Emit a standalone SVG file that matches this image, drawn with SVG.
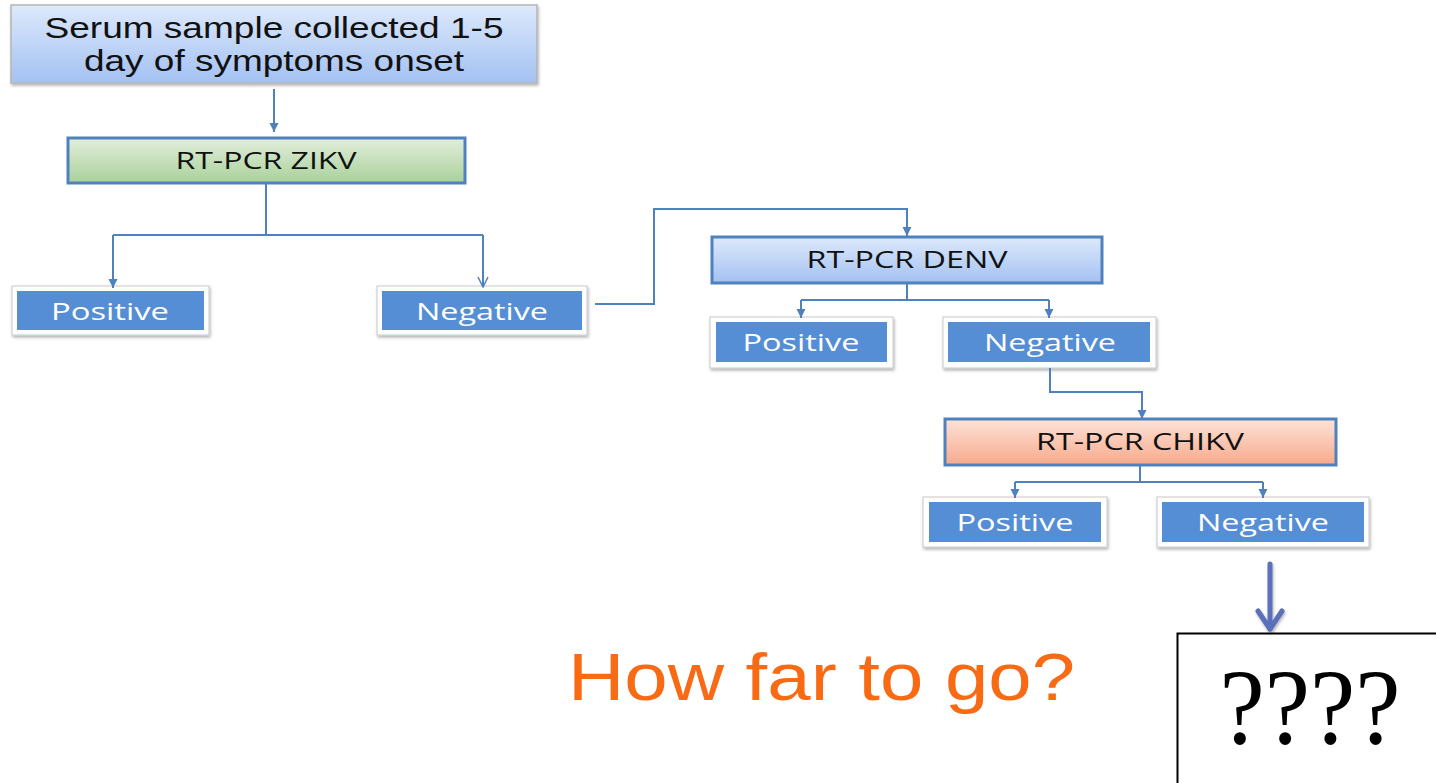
<svg xmlns="http://www.w3.org/2000/svg" width="1436" height="783" viewBox="0 0 1436 783">
  <defs>
    <linearGradient id="gBlue" x1="0" y1="0" x2="0" y2="1">
      <stop offset="0" stop-color="#dde9fb"/>
      <stop offset="1" stop-color="#a3c1f2"/>
    </linearGradient>
    <linearGradient id="gGreen" x1="0" y1="0" x2="0" y2="1">
      <stop offset="0" stop-color="#e2eedb"/>
      <stop offset="1" stop-color="#a9d19a"/>
    </linearGradient>
    <linearGradient id="gSalmon" x1="0" y1="0" x2="0" y2="1">
      <stop offset="0" stop-color="#fde3d8"/>
      <stop offset="1" stop-color="#f7a98c"/>
    </linearGradient>
    <filter id="shadow" x="-10%" y="-20%" width="120%" height="150%">
      <feDropShadow dx="1" dy="2" stdDeviation="1.5" flood-color="#000" flood-opacity="0.3"/>
    </filter>
    <filter id="arrowShadow" filterUnits="userSpaceOnUse" x="1240" y="550" width="60" height="100">
      <feDropShadow dx="1" dy="2" stdDeviation="1.5" flood-color="#000" flood-opacity="0.3"/>
    </filter>
    <marker id="arr" viewBox="0 0 10 10" refX="10" refY="5" markerWidth="9" markerHeight="10" markerUnits="userSpaceOnUse" orient="auto">
      <path d="M0,0 L10,5 L0,10 Z" fill="#4f81bd"/>
    </marker>
    <marker id="arrOpen" viewBox="0 0 12 12" refX="11" refY="6" markerWidth="12" markerHeight="12" markerUnits="userSpaceOnUse" orient="auto">
      <path d="M1,1 L11,6 L1,11" fill="none" stroke="#4f81bd" stroke-width="1.5"/>
    </marker>
    <style>
      .lbl { font-family: "Open Sans", "Liberation Sans", sans-serif; font-size: 24px; fill: #ffffff; text-anchor: middle; }
      .test { font-family: "Open Sans", "Liberation Sans", sans-serif; font-size: 24px; fill: #111111; text-anchor: middle; }
      .outer { fill: #ffffff; stroke: #c9c9c9; stroke-width: 1; }
      .inner { fill: #558ed5; }
      .tbox { stroke: #4f81bd; stroke-width: 3; }
      .conn { fill: none; stroke: #4f81bd; stroke-width: 2; }
    </style>
  </defs>

  <rect width="1436" height="783" fill="#ffffff"/>

  <!-- start node -->
  <g id="serum">
    <rect x="11" y="5" width="526" height="78" fill="url(#gBlue)" stroke="#b5b5b5" stroke-width="1.5" filter="url(#shadow)"/>
    <text x="274" y="38" font-family="Liberation Sans, Arial, sans-serif" font-size="29" fill="#111" text-anchor="middle" textLength="459" lengthAdjust="spacingAndGlyphs">Serum sample collected 1-5</text>
    <text x="274" y="71" font-family="Liberation Sans, Arial, sans-serif" font-size="29" fill="#111" text-anchor="middle" textLength="380" lengthAdjust="spacingAndGlyphs">day of symptoms onset</text>
  </g>

  <!-- test nodes -->
  <g id="zikv">
    <rect class="tbox" x="68" y="138" width="397" height="45" fill="url(#gGreen)"/>
    <text class="test" x="266" y="169" textLength="181" lengthAdjust="spacingAndGlyphs">RT-PCR ZIKV</text>
  </g>
  <g id="denv">
    <rect class="tbox" x="712" y="237" width="390" height="46" fill="url(#gBlue)"/>
    <text class="test" x="907" y="268" textLength="201" lengthAdjust="spacingAndGlyphs">RT-PCR DENV</text>
  </g>
  <g id="chikv">
    <rect class="tbox" x="945" y="419" width="391" height="46" fill="url(#gSalmon)"/>
    <text class="test" x="1140" y="450" textLength="208" lengthAdjust="spacingAndGlyphs">RT-PCR CHIKV</text>
  </g>

  <!-- result nodes -->
  <g id="zikv-pos">
    <rect class="outer" x="12" y="286" width="197" height="49" filter="url(#shadow)"/>
    <rect class="inner" x="17" y="291" width="187" height="39"/>
    <text class="lbl" x="110" y="320" textLength="118" lengthAdjust="spacingAndGlyphs">Positive</text>
  </g>
  <g id="zikv-neg">
    <rect class="outer" x="377" y="286" width="210" height="49" filter="url(#shadow)"/>
    <rect class="inner" x="382" y="291" width="200" height="39"/>
    <text class="lbl" x="482" y="320" textLength="132" lengthAdjust="spacingAndGlyphs">Negative</text>
  </g>
  <g id="denv-pos">
    <rect class="outer" x="710" y="317" width="183" height="51" filter="url(#shadow)"/>
    <rect class="inner" x="716" y="322" width="171" height="40"/>
    <text class="lbl" x="801" y="351" textLength="117" lengthAdjust="spacingAndGlyphs">Positive</text>
  </g>
  <g id="denv-neg">
    <rect class="outer" x="943" y="317" width="213" height="51" filter="url(#shadow)"/>
    <rect class="inner" x="948" y="322" width="202" height="40"/>
    <text class="lbl" x="1050" y="351" textLength="132" lengthAdjust="spacingAndGlyphs">Negative</text>
  </g>
  <g id="chikv-pos">
    <rect class="outer" x="923" y="497" width="184" height="50" filter="url(#shadow)"/>
    <rect class="inner" x="929" y="502" width="172" height="40"/>
    <text class="lbl" x="1015" y="531" textLength="117" lengthAdjust="spacingAndGlyphs">Positive</text>
  </g>
  <g id="chikv-neg">
    <rect class="outer" x="1157" y="497" width="212" height="50" filter="url(#shadow)"/>
    <rect class="inner" x="1162" y="502" width="202" height="40"/>
    <text class="lbl" x="1263" y="531" textLength="132" lengthAdjust="spacingAndGlyphs">Negative</text>
  </g>

  <!-- unknown next step -->
  <g id="unknown">
    <rect x="1177.5" y="633.5" width="262" height="152" fill="#ffffff" stroke="#000000" stroke-width="2"/>
    <text x="1310" y="743" font-family="Liberation Serif, Times New Roman, serif" font-size="108" fill="#000" text-anchor="middle" textLength="181" lengthAdjust="spacingAndGlyphs">????</text>
  </g>

  <g id="question">
    <text x="568" y="700" font-family="Liberation Sans, Arial, sans-serif" font-size="66" fill="#f86a14" textLength="507" lengthAdjust="spacingAndGlyphs">How far to go?</text>
  </g>

  <!-- connectors -->
  <g id="connectors">
    <path class="conn" d="M274,89 L274,132" marker-end="url(#arr)"/>
    <path class="conn" d="M266,183 L266,235 M113,235 L483,235"/>
    <path class="conn" d="M113,235 L113,288" marker-end="url(#arr)"/>
    <path class="conn" d="M483,235 L483,287" marker-end="url(#arrOpen)"/>
    <path class="conn" d="M595,304 L654,304 L654,209 L907,209 L907,236" marker-end="url(#arr)"/>
    <path class="conn" d="M907,283 L907,300 M801,300 L1049,300"/>
    <path class="conn" d="M801,300 L801,318" marker-end="url(#arr)"/>
    <path class="conn" d="M1049,300 L1049,318" marker-end="url(#arr)"/>
    <path class="conn" d="M1050,368 L1050,392 L1142,392 L1142,419" marker-end="url(#arr)"/>
    <path class="conn" d="M1140,465 L1140,482 M1015,482 L1263,482"/>
    <path class="conn" d="M1015,482 L1015,498" marker-end="url(#arr)"/>
    <path class="conn" d="M1263,482 L1263,498" marker-end="url(#arr)"/>
    <g filter="url(#arrowShadow)" fill="none" stroke="#5a6fb8" stroke-width="5" stroke-linecap="round" stroke-linejoin="round">
      <path d="M1270,564 L1270,629"/>
      <path d="M1258,611 L1270,629 L1282,611"/>
    </g>
  </g>
</svg>
